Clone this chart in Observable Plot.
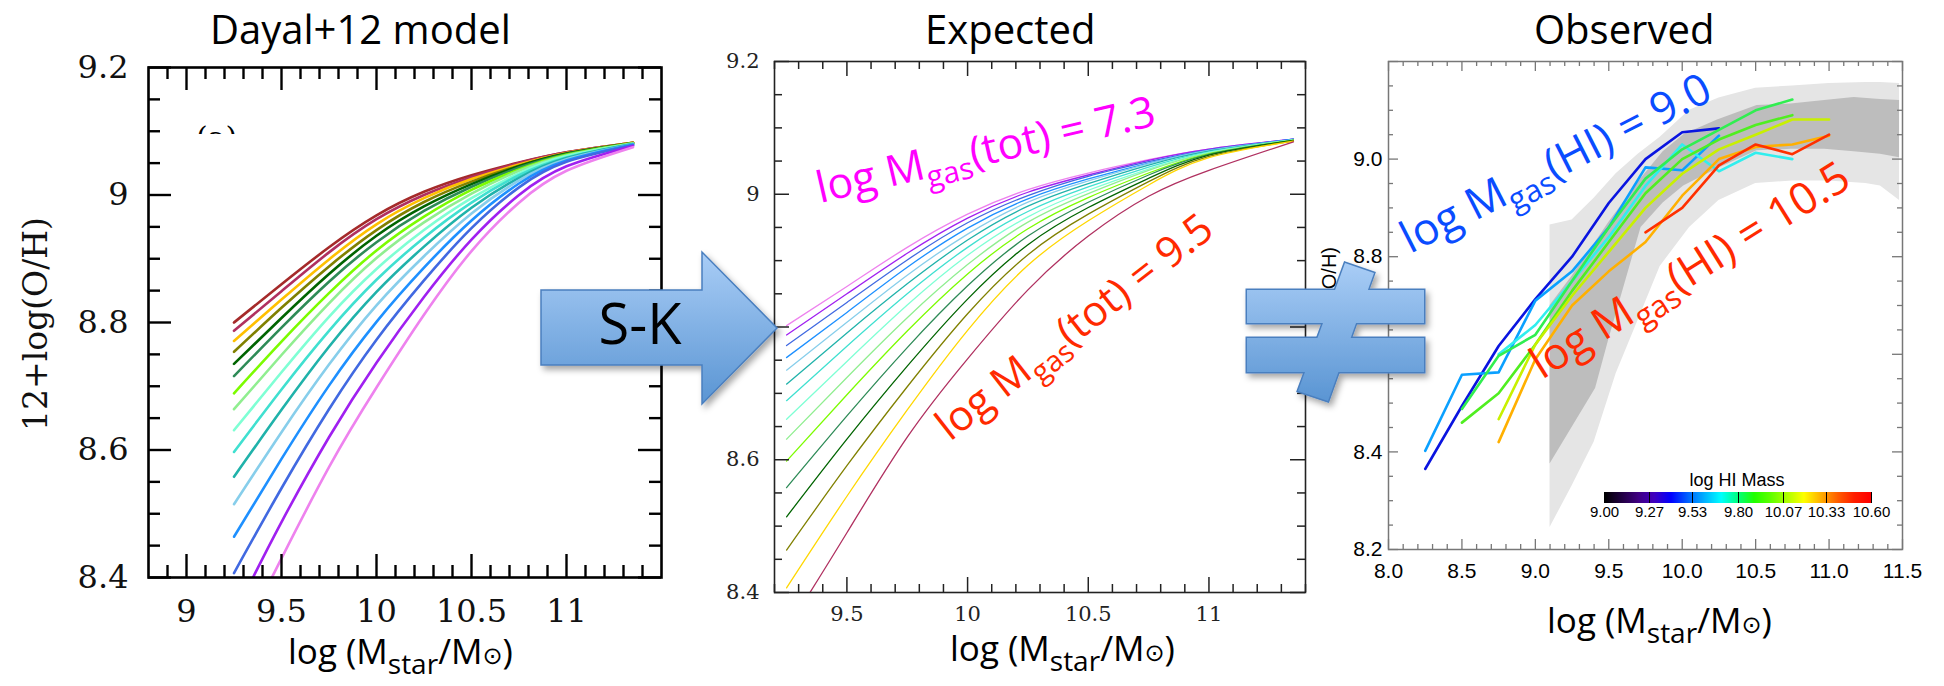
<!DOCTYPE html>
<html><head><meta charset="utf-8">
<script src="https://cdn.jsdelivr.net/npm/d3@7"></script>
<script src="https://cdn.jsdelivr.net/npm/@observablehq/plot@0.6"></script>
<style>
body{margin:0;background:#fff;}
#wrap{position:relative;width:1944px;height:686px;overflow:hidden;background:#fff;}
</style></head><body><div id="wrap"></div>
<script>
// ---------------- DATA ----------------
// Left panel (Dayal+12 model)
const leftGridX = [9.25, 9.5, 9.75, 10, 10.25, 10.5, 10.75, 11, 11.35];
const leftFirstX = [9.25,9.25,9.25,9.25,9.25,9.25,9.25,9.25,9.25,9.25,9.25,9.25,9.25,9.25,9.35,9.45];
const leftColors = ["#a52a2a","#b03060","#ffc000","#808000","#006400","#2e8b57","#7cfc00","#90ee90","#7fffd4","#40e0d0","#20b2aa","#87ceeb","#1e90ff","#4169e1","#a020f0","#ee82ee"];
const leftY = [
  [8.800, 8.860, 8.918, 8.968, 9.005, 9.031, 9.051, 9.067, 9.082],
  [8.787, 8.849, 8.910, 8.962, 9.000, 9.028, 9.050, 9.067, 9.082],
  [8.771, 8.836, 8.899, 8.954, 8.995, 9.025, 9.048, 9.066, 9.082],
  [8.754, 8.823, 8.888, 8.945, 8.989, 9.021, 9.046, 9.065, 9.082],
  [8.735, 8.807, 8.876, 8.936, 8.982, 9.017, 9.045, 9.065, 9.081],
  [8.716, 8.792, 8.864, 8.926, 8.975, 9.013, 9.043, 9.064, 9.081],
  [8.689, 8.770, 8.846, 8.913, 8.966, 9.008, 9.040, 9.063, 9.081],
  [8.664, 8.749, 8.830, 8.901, 8.957, 9.002, 9.038, 9.062, 9.081],
  [8.631, 8.722, 8.809, 8.884, 8.945, 8.995, 9.034, 9.061, 9.080],
  [8.597, 8.695, 8.787, 8.867, 8.933, 8.988, 9.031, 9.059, 9.080],
  [8.558, 8.663, 8.762, 8.848, 8.919, 8.980, 9.027, 9.058, 9.080],
  [8.515, 8.628, 8.734, 8.827, 8.904, 8.971, 9.023, 9.056, 9.079],
  [8.464, 8.586, 8.701, 8.801, 8.886, 8.960, 9.018, 9.054, 9.079],
  [8.407, 8.540, 8.664, 8.773, 8.866, 8.948, 9.012, 9.052, 9.078],
  [8.400, 8.487, 8.620, 8.737, 8.840, 8.930, 9.000, 9.045, 9.077],
  [8.400, 8.430, 8.573, 8.698, 8.812, 8.912, 8.988, 9.038, 9.075]
];
// Middle panel (Expected)
const midGridX = [9.25, 9.5, 9.75, 10, 10.25, 10.5, 10.75, 11, 11.35];
const midFirstX = [9.25,9.25,9.25,9.25,9.25,9.25,9.25,9.25,9.25,9.25,9.25,9.25,9.25,9.25,9.347];
const midColors = ["#ee82ee","#a020f0","#4169e1","#1e90ff","#87ceeb","#20b2aa","#40e0d0","#7fffd4","#90ee90","#7cfc00","#2e8b57","#006400","#808000","#ffd700","#b03060"];
const midY = [
  [8.802, 8.861, 8.920, 8.970, 9.007, 9.032, 9.052, 9.068, 9.083],
  [8.788, 8.850, 8.911, 8.964, 9.003, 9.029, 9.051, 9.068, 9.083],
  [8.772, 8.837, 8.901, 8.957, 8.998, 9.027, 9.049, 9.067, 9.083],
  [8.754, 8.822, 8.890, 8.949, 8.993, 9.023, 9.047, 9.066, 9.083],
  [8.735, 8.807, 8.878, 8.940, 8.988, 9.020, 9.046, 9.066, 9.082],
  [8.714, 8.791, 8.865, 8.931, 8.982, 9.016, 9.044, 9.065, 9.082],
  [8.689, 8.771, 8.850, 8.920, 8.974, 9.011, 9.041, 9.064, 9.082],
  [8.661, 8.748, 8.833, 8.908, 8.966, 9.006, 9.038, 9.063, 9.082],
  [8.631, 8.724, 8.814, 8.894, 8.958, 9.001, 9.036, 9.062, 9.082],
  [8.598, 8.698, 8.794, 8.880, 8.948, 8.995, 9.032, 9.061, 9.081],
  [8.558, 8.666, 8.769, 8.862, 8.937, 8.988, 9.029, 9.060, 9.081],
  [8.514, 8.631, 8.741, 8.842, 8.924, 8.980, 9.024, 9.059, 9.081],
  [8.464, 8.591, 8.710, 8.820, 8.909, 8.970, 9.019, 9.057, 9.080],
  [8.407, 8.545, 8.675, 8.795, 8.893, 8.960, 9.014, 9.055, 9.080],
  [8.400, 8.490, 8.634, 8.752, 8.856, 8.937, 8.997, 9.036, 9.079]
];
// Right panel (Observed): shaded bands
const outerX  = [9.10, 9.25, 9.40, 9.55, 9.70, 9.85, 10.05, 10.25, 10.50, 10.75, 11.00, 11.25, 11.35, 11.48];
const outerLo = [8.245, 8.33, 8.42, 8.56, 8.67, 8.78, 8.86, 8.915, 8.95, 8.955, 8.955, 8.95, 8.945, 8.915];
const outerHi = [8.865, 8.875, 8.92, 8.97, 9.01, 9.045, 9.10, 9.125, 9.145, 9.15, 9.155, 9.157, 9.157, 9.155];
const innerX  = [9.10, 9.25, 9.41, 9.50, 9.72, 9.87, 10.01, 10.24, 10.51, 10.74, 10.97, 11.17, 11.35, 11.48];
const innerLo = [8.375, 8.45, 8.53, 8.63, 8.86, 8.91, 8.945, 8.98, 9.017, 9.02, 9.02, 9.015, 9.01, 9.003];
const innerHi = [8.70, 8.76, 8.83, 8.87, 8.96, 9.015, 9.05, 9.08, 9.11, 9.113, 9.12, 9.126, 9.122, 9.12];
// Right panel: binned HI-mass tracks [logMstar, 12+log(O/H)]
const obsDarkBlue = [[8.25,8.365],[8.5,8.494],[8.75,8.617],[9.0,8.713],[9.25,8.80],[9.5,8.91],[9.75,9.0],[10.0,9.055],[10.25,9.063]];
const obsAzure    = [[8.25,8.402],[8.5,8.558],[8.75,8.563],[9.0,8.71],[9.25,8.77],[9.5,8.86],[9.75,8.983],[10.0,8.977],[10.25,9.048]];
const obsCyan     = [[8.75,8.60],[9.0,8.66],[9.25,8.75],[9.5,8.84],[9.75,8.945],[10.0,9.03],[10.25,8.975],[10.5,9.013],[10.75,9.0]];
const obsGreen1   = [[8.5,8.488],[8.75,8.597],[9.0,8.64],[9.25,8.75],[9.5,8.86],[9.75,8.96],[10.0,9.02],[10.25,9.06],[10.5,9.10],[10.75,9.122]];
const obsGreen2   = [[8.5,8.46],[8.75,8.52],[9.0,8.62],[9.25,8.73],[9.5,8.83],[9.75,8.93],[10.0,9.0],[10.25,9.04],[10.5,9.07],[10.75,9.09]];
const obsYellow   = [[8.75,8.467],[9.0,8.62],[9.25,8.72],[9.5,8.81],[9.75,8.90],[10.0,8.97],[10.25,9.02],[10.5,9.05],[10.75,9.081],[11.0,9.081]];
const obsOrange   = [[8.75,8.42],[9.0,8.59],[9.25,8.70],[9.5,8.77],[9.75,8.83],[10.0,8.925],[10.25,9.0],[10.5,9.025],[10.75,9.03],[11.0,9.048]];
const obsRed      = [[9.75,8.85],[10.0,8.90],[10.25,8.987],[10.5,9.03],[10.75,9.01],[11.0,9.05]];
const obsTracks = [obsDarkBlue, obsAzure, obsCyan, obsGreen1, obsGreen2, obsYellow, obsOrange, obsRed];
const obsColors = ["#0a14e0","#0aa0ff","#30eeee","#30ee50","#50ee20","#c8f000","#ffb000","#ff3000"];
// colour bar
const cbStops  = [9.0,9.1,9.2,9.3,9.4,9.5,9.6,9.7,9.8,9.9,10.0,10.1,10.2,10.3,10.4,10.5,10.6];
const cbColors = ["#000000","#200040","#400080","#4000c0","#0000ff","#0060ff","#00b0ff","#00ffff","#00ff80","#20ff00","#60ff00","#b0ff00","#ffff00","#ffb000","#ff6000","#ff2000","#ff0000"];
const cbTicks  = [9.00, 9.27, 9.53, 9.80, 10.07, 10.33, 10.60];
// tick label values
const leftXTicks = [9, 9.5, 10, 10.5, 11];
const leftYTicks = [8.4, 8.6, 8.8, 9, 9.2];
const midXTicks = [9.5, 10, 10.5, 11];
const midYTicks = [8.4, 8.6, 8.8, 9, 9.2];
const obsXTicks = [8.0, 8.5, 9.0, 9.5, 10.0, 10.5, 11.0, 11.5];
const obsYTicks = [8.2, 8.4, 8.6, 8.8, 9.0];

// ---------------- HELPERS ----------------
const wrap = document.getElementById("wrap");
function place(node, left, top) {
  node.style.position = "absolute"; node.style.left = left + "px"; node.style.top = top + "px";
  wrap.appendChild(node);
}
const near = (a, b) => Math.abs(a - b) < 1e-6;
function minor(lo, hi, step, majors) {
  const out = [];
  for (let i = 0; lo + i * step <= hi + 1e-9; i++) {
    const v = +(lo + i * step).toFixed(4);
    if (!majors.some(m => near(m, v))) out.push(v);
  }
  return out;
}
function tickMarks({xMaj, xMin, yMaj, yMin, fw, fh, maj, mn, stroke, sw}) {
  const o = {stroke, strokeWidth: sw};
  return [
    Plot.tickX(xMaj, {x: d => d, insetTop: fh - maj, ...o}),
    Plot.tickX(xMaj, {x: d => d, insetBottom: fh - maj, ...o}),
    Plot.tickX(xMin, {x: d => d, insetTop: fh - mn, ...o}),
    Plot.tickX(xMin, {x: d => d, insetBottom: fh - mn, ...o}),
    Plot.tickY(yMaj, {y: d => d, insetRight: fw - maj, ...o}),
    Plot.tickY(yMaj, {y: d => d, insetLeft: fw - maj, ...o}),
    Plot.tickY(yMin, {y: d => d, insetRight: fw - mn, ...o}),
    Plot.tickY(yMin, {y: d => d, insetLeft: fw - mn, ...o})
  ];
}
function curves(gridX, firstX, ys, colors, sw) {
  return ys.map((row, i) => {
    const pts = row.map((y, j) => ({x: j === 0 ? firstX[i] : gridX[j], y}));
    return Plot.line(pts, {x: "x", y: "y", stroke: colors[i], strokeWidth: sw, curve: "natural", clip: true});
  });
}

// ---------------- LEFT PANEL ----------------
{
  const W = 680, H = 686, mL = 148, mR = 19, mT = 67, mB = 109;
  const fw = W - mL - mR, fh = H - mT - mB;
  const svg = Plot.plot({
    width: W, height: H, marginLeft: mL, marginRight: mR, marginTop: mT, marginBottom: mB,
    style: {background: "transparent", fontFamily: "DejaVu Serif", fontSize: "32px", color: "#111", overflow: "visible"},
    x: {domain: [8.8, 11.5], label: null},
    y: {domain: [8.4, 9.2], label: null},
    marks: [
      ...curves(leftGridX, leftFirstX, leftY, leftColors, 2.6),
      ...tickMarks({xMaj: leftXTicks, xMin: minor(8.9, 11.4, 0.1, leftXTicks), yMaj: leftYTicks, yMin: minor(8.4, 9.2, 0.05, leftYTicks), fw, fh, maj: 23, mn: 12, stroke: "#000", sw: 2.4}),
      Plot.frame({stroke: "#000", strokeWidth: 2.6}),
      Plot.axisX({ticks: leftXTicks, tickSize: 0, tickPadding: 22, tickFormat: d => String(d), fontSize: 32, fontFamily: "DejaVu Serif"}),
      Plot.axisY({ticks: leftYTicks, tickSize: 0, tickPadding: 20, tickFormat: d => String(d), fontSize: 32, fontFamily: "DejaVu Serif"})
    ]
  });
  place(svg, 0, 0);
}

// ---------------- MIDDLE PANEL ----------------
{
  const W = 620, H = 686, mL = 74, mR = 15, mT = 61, mB = 94;
  const fw = W - mL - mR, fh = H - mT - mB;
  const svg = Plot.plot({
    width: W, height: H, marginLeft: mL, marginRight: mR, marginTop: mT, marginBottom: mB,
    style: {background: "transparent", fontFamily: "DejaVu Serif", fontSize: "21px", color: "#222", overflow: "visible"},
    x: {domain: [9.2, 11.4], label: null},
    y: {domain: [8.4, 9.2], label: null},
    marks: [
      ...curves(midGridX, midFirstX, midY, midColors, 1.3),
      ...tickMarks({xMaj: midXTicks, xMin: minor(9.2, 11.4, 0.1, midXTicks), yMaj: midYTicks, yMin: minor(8.4, 9.2, 0.05, midYTicks), fw, fh, maj: 15, mn: 8, stroke: "#222", sw: 1.5}),
      Plot.frame({stroke: "#222", strokeWidth: 1.6}),
      Plot.axisX({ticks: midXTicks, tickSize: 0, tickPadding: 14, tickFormat: d => String(d), fontSize: 21, fontFamily: "DejaVu Serif"}),
      Plot.axisY({ticks: midYTicks, tickSize: 0, tickPadding: 15, tickFormat: d => String(d), fontSize: 21, fontFamily: "DejaVu Serif"})
    ]
  });
  place(svg, 700, 0);
}

// ---------------- RIGHT PANEL ----------------
{
  const W = 714, H = 686, mL = 158, mR = 42, mT = 61, mB = 137;
  const fw = W - mL - mR, fh = H - mT - mB;
  const outer = outerX.map((x, i) => ({x, lo: outerLo[i], hi: outerHi[i]}));
  const inner = innerX.map((x, i) => ({x, lo: innerLo[i], hi: innerHi[i]}));
  const yMaj = [8.2, 8.4, 8.6, 8.8, 9.0, 9.2];
  const svg = Plot.plot({
    width: W, height: H, marginLeft: mL, marginRight: mR, marginTop: mT, marginBottom: mB,
    style: {background: "transparent", fontFamily: "Liberation Sans", fontSize: "21px", color: "#000", overflow: "visible"},
    x: {domain: [8, 11.5], label: null},
    y: {domain: [8.2, 9.2], label: null},
    marks: [
      Plot.areaY(outer, {x: "x", y1: "lo", y2: "hi", fill: "#e5e5e5"}),
      Plot.areaY(inner, {x: "x", y1: "lo", y2: "hi", fill: "#bdbdbd"}),
      ...obsTracks.map((t, i) => Plot.line(t, {x: d => d[0], y: d => d[1], stroke: obsColors[i], strokeWidth: 2.6})),
      ...tickMarks({xMaj: obsXTicks, xMin: minor(8, 11.5, 0.1, obsXTicks), yMaj, yMin: minor(8.2, 9.2, 0.05, yMaj), fw, fh, maj: 10, mn: 5, stroke: "#777", sw: 1.3}),
      Plot.frame({stroke: "#777", strokeWidth: 1.5}),
      Plot.axisX({ticks: obsXTicks, tickSize: 0, tickPadding: 14, tickFormat: d3.format(".1f"), fontSize: 21, fontFamily: "Liberation Sans"}),
      Plot.axisY({ticks: obsYTicks, tickSize: 0, tickPadding: 6, tickFormat: d3.format(".1f"), fontSize: 21, fontFamily: "Liberation Sans"})
    ]
  });
  place(svg, 1230, 0);
}

// ---------------- COLOUR BAR ----------------
{
  const leg = Plot.legend({
    color: {type: "linear", domain: cbStops, range: cbColors, interpolate: "rgb"},
    width: 307, height: 60, marginLeft: 20, marginRight: 20, marginTop: 27, marginBottom: 22,
    ticks: cbTicks, tickFormat: ".2f", tickSize: 0, label: null,
    style: {background: "transparent", fontFamily: "Liberation Sans", fontSize: "15px", color: "#000", overflow: "visible"}
  });
  place(leg, 1584, 465);
}

// ---------------- OVERLAY (titles, labels, annotations, symbols) ----------------
const sub = (main, s, rest, fs, subFs, dy) =>
  `${main}<tspan font-size="${subFs}" dy="${dy}">${s}</tspan><tspan font-size="${fs}" dy="${-dy}">${rest}</tspan>`;
const xLabel = (x, y) =>
  `<text x="${x}" y="${y}" font-family="Open Sans" font-size="35" fill="#000">log (M<tspan font-size="28" dy="10">star</tspan><tspan dy="-10">/M</tspan><tspan font-size="24" font-family="DejaVu Sans">⊙</tspan>)</text>`;
const ov = `
<svg xmlns="http://www.w3.org/2000/svg" width="1944" height="686" style="position:absolute;left:0;top:0">
 <defs>
  <linearGradient id="gA" x1="0" y1="252" x2="0" y2="404" gradientUnits="userSpaceOnUse">
   <stop offset="0" stop-color="#a9cdf6"/><stop offset="1" stop-color="#5a95d3"/></linearGradient>
  <linearGradient id="gN" x1="0" y1="263" x2="0" y2="401" gradientUnits="userSpaceOnUse">
   <stop offset="0" stop-color="#a9cdf6"/><stop offset="1" stop-color="#5a95d3"/></linearGradient>
  <filter id="sh" x="-20%" y="-20%" width="140%" height="140%"><feDropShadow dx="3" dy="4" stdDeviation="3" flood-color="#000" flood-opacity="0.35"/></filter>
  <clipPath id="cA"><rect x="180" y="100" width="80" height="34"/></clipPath>
 </defs>
 <text x="210" y="44" font-family="Open Sans" font-size="40" fill="#000">Dayal+12 model</text>
 <text x="925" y="44" font-family="Open Sans" font-size="40" fill="#000">Expected</text>
 <text x="1534" y="44" font-family="Open Sans" font-size="40" fill="#000">Observed</text>
 <text x="196" y="148" font-family="DejaVu Serif" font-size="30" fill="#000" clip-path="url(#cA)">(a)</text>
 <text transform="translate(47,324) rotate(-90)" text-anchor="middle" font-family="DejaVu Serif" font-size="33" fill="#111">12+log(O/H)</text>
 <text transform="translate(1336,247) rotate(-90)" text-anchor="end" font-family="Liberation Sans" font-size="20" fill="#000">12+log(O/H)</text>
 ${xLabel(288, 664)}
 ${xLabel(950, 661)}
 ${xLabel(1547, 633)}
 <text transform="translate(820,203) rotate(-13)" font-family="Open Sans" font-size="43" fill="#ff00ff">${sub("log M", "gas", "(tot) = 7.3", 43, 30, 10)}</text>
 <text transform="translate(950,442) rotate(-38)" font-family="Open Sans" font-size="42" fill="#ff2a00">${sub("log M", "gas", "(tot) = 9.5", 42, 29, 10)}</text>
 <text transform="translate(1410,254) rotate(-27)" font-family="Open Sans" font-size="44" fill="#0a4cff">${sub("log M", "gas", "(HI) = 9.0", 44, 31, 10)}</text>
 <text transform="translate(1542,380) rotate(-32)" font-family="Open Sans" font-size="44" fill="#ff2a00">${sub("log M", "gas", "(HI) = 10.5", 44, 31, 10)}</text>
 <text x="1737" y="486" text-anchor="middle" font-family="Liberation Sans" font-size="18" fill="#000">log HI Mass</text>
 <g filter="url(#sh)">
  <path d="M541,290 L702,290 L702,252 L777,328 L702,404 L702,365 L541,365 Z" fill="url(#gA)" stroke="#4a7fbf" stroke-width="1.5"/>
 </g>
 <text x="640" y="344" text-anchor="middle" font-family="Open Sans" font-size="56" fill="#000">S-K</text>
 <g filter="url(#sh)">
  <g stroke="#4a7fbf" stroke-width="3" fill="none">
   <path d="M1247,290 H1424 V323 H1247 Z"/><path d="M1247,338 H1424 V372 H1247 Z"/><path d="M1345,263 L1374,273 L1328,401 L1298,391 Z"/>
  </g>
  <g fill="url(#gN)" stroke="none">
   <path d="M1247,290 H1424 V323 H1247 Z"/><path d="M1247,338 H1424 V372 H1247 Z"/><path d="M1345,263 L1374,273 L1328,401 L1298,391 Z"/>
  </g>
 </g>
</svg>`;
wrap.insertAdjacentHTML("beforeend", ov);
</script>
</body></html>
